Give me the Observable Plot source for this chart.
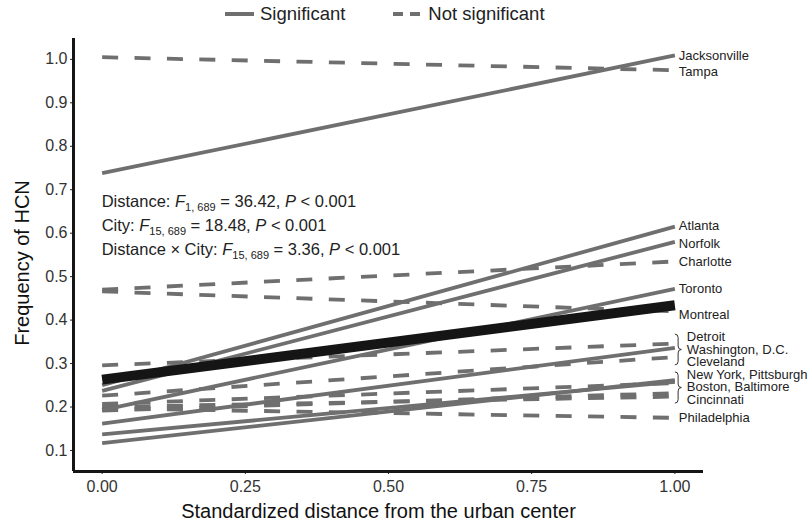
<!DOCTYPE html>
<html>
<head>
<meta charset="utf-8">
<script src="https://cdn.jsdelivr.net/npm/d3@7"></script>
<script src="https://cdn.jsdelivr.net/npm/@observablehq/plot@0.6"></script>
<style>
  html, body { margin: 0; padding: 0; background: #fff; }
  #legend { height: 28px; display: flex; align-items: center; padding-left: 225px;
            font-family: 'Liberation Sans', Arial, sans-serif; font-size: 18.5px; color: #222; }
  #legend .item { display: flex; align-items: center; }
  #legend svg { display: block; }
</style>
</head>
<body>
<div id="legend"></div>
<div id="chart"></div>
<script>
// ---- data ----
const cities = ["Jacksonville", "Tampa", "Atlanta", "Norfolk", "Charlotte", "Toronto", "Montreal",
  "Detroit", "Washington, D.C.", "Cleveland", "New York", "Pittsburgh", "Boston", "Baltimore",
  "Cincinnati", "Philadelphia"];
const freqAtCenter = [0.738, 1.005, 0.250, 0.237, 0.470, 0.193, 0.466, 0.296, 0.162, 0.226, 0.137, 0.117, 0.207, 0.192, 0.200, 0.197];
const freqAtEdge   = [1.009, 0.975, 0.615, 0.580, 0.535, 0.472, 0.420, 0.346, 0.336, 0.315, 0.258, 0.262, 0.255, 0.232, 0.224, 0.175];
const significant  = [true, false, true, true, false, true, false, false, true, false, true, true, false, false, false, false];
const overallStart = 0.263;
const overallEnd = 0.434;
const distances = [0, 1];

const labelTexts = ["Jacksonville", "Tampa", "Atlanta", "Norfolk", "Charlotte", "Toronto", "Montreal",
  "Detroit", "Washington, D.C.", "Cleveland", "New York, Pittsburgh", "Boston, Baltimore", "Cincinnati", "Philadelphia"];
const labelAt = [1.009, 0.971, 0.618, 0.576, 0.535, 0.471, 0.411, 0.362, 0.332, 0.305, 0.275, 0.247, 0.217, 0.174];
const labelGroup = [0, 0, 0, 0, 0, 0, 0, 1, 1, 1, 2, 2, 2, 0];

const xTicks = [0, 0.25, 0.5, 0.75, 1];
const yTicks = [0.1, 0.2, 0.3, 0.4, 0.5, 0.6, 0.7, 0.8, 0.9, 1.0];

const statTerms = ["Distance", "City", "Distance × City"];
const statDf = ["1, 689", "15, 689", "15, 689"];
const statF = ["36.42", "18.48", "3.36"];
const statP = ["0.001", "0.001", "0.001"];
const statAt = [0.672, 0.617, 0.563];

const legendLabels = ["Significant", "Not significant"];

const xTitle = "Standardized distance from the urban center";
const yTitle = "Frequency of HCN";

// ---- styling ----
const FONT = "'Liberation Sans', Arial, Helvetica, sans-serif";
const GREY = "#6f6f6f";
const DASH = "16,16.4";

// ---- legend ----
const legend = d3.select("#legend");
legendLabels.forEach((lab, i) => {
  const item = legend.append("div").attr("class", "item")
    .style("margin-right", i === 0 ? "48px" : "0");
  const s = item.append("svg").attr("width", i === 0 ? 29 : 27).attr("height", 8)
    .style("margin-right", i === 0 ? "6px" : "8px");
  s.append("line").attr("x1", 0).attr("x2", i === 0 ? 29 : 27).attr("y1", 4).attr("y2", 4)
    .attr("stroke", GREY).attr("stroke-width", 4)
    .attr("stroke-dasharray", i === 0 ? null : "10,7");
  item.append("span").text(lab);
});

// ---- rows ----
const rows = cities.flatMap((c, i) => distances.map(d => ({
  city: c, d, f: d === 0 ? freqAtCenter[i] : freqAtEdge[i], sig: significant[i]
})));
const overallRows = distances.map(d => ({d, f: d === 0 ? overallStart : overallEnd}));
const labels = labelTexts.map((t, i) => ({text: t, y: labelAt[i], g: labelGroup[i]}));

// annotation (stats) mark
function statsMark(index, scales) {
  const g = d3.create("svg:g")
    .attr("font-family", FONT).attr("font-size", 16.5).attr("fill", "#222")
    .attr("text-anchor", "start");
  statTerms.forEach((term, i) => {
    const t = g.append("text")
      .attr("x", scales.x(0)).attr("y", scales.y(statAt[i])).attr("dy", "0.35em");
    t.append("tspan").text(term + ": ");
    t.append("tspan").attr("font-style", "italic").text("F");
    t.append("tspan").attr("font-size", 11).attr("dy", 4).text(statDf[i]);
    t.append("tspan").attr("dy", -4).text(" = " + statF[i] + ", ");
    t.append("tspan").attr("font-style", "italic").text("P");
    t.append("tspan").text(" < " + statP[i]);
  });
  return g.node();
}

// braces for grouped labels
function bracesMark(index, scales) {
  const g = d3.create("svg:g").attr("fill", "none").attr("stroke", "#333").attr("stroke-width", 1);
  [1, 2].forEach(grp => {
    const ys = labels.filter(l => l.g === grp).map(l => scales.y(l.y));
    const yTop = d3.min(ys) - 2, yBot = d3.max(ys) + 4, ym = (yTop + yBot) / 2;
    const x0 = scales.x(1) + 0.5, w = 6.5, xm = x0 + w / 2, x1 = x0 + w, r = 3.5;
    g.append("path").attr("d",
      `M${x0},${yTop} Q${xm},${yTop} ${xm},${yTop + r} L${xm},${ym - r} Q${xm},${ym} ${x1},${ym}` +
      ` Q${xm},${ym} ${xm},${ym + r} L${xm},${yBot - r} Q${xm},${yBot} ${x0},${yBot}`);
  });
  return g.node();
}

const xDomain = [-0.05, 1.05];
const yDomain = [0.0516, 1.048];

const chart = Plot.plot({
  width: 811,
  height: 497,
  marginTop: 10,
  marginBottom: 54,
  marginLeft: 73,
  marginRight: 108,
  x: {domain: xDomain},
  y: {domain: yDomain},
  style: {fontFamily: FONT, fontSize: "16px", color: "#333", background: "white", overflow: "visible"},
  marks: [
    Plot.axisX({ticks: xTicks, tickFormat: d => d.toFixed(2), tickSize: 3, tickPadding: 6, label: null, stroke: "#222"}),
    Plot.axisY({ticks: yTicks, tickFormat: d => d.toFixed(1), tickSize: 3, tickPadding: 3, label: null, stroke: "#222"}),
    Plot.line(rows.filter(r => !r.sig), {x: "d", y: "f", z: "city", stroke: GREY, strokeWidth: 3.8, strokeDasharray: DASH, strokeLinecap: "butt"}),
    Plot.line(rows.filter(r => r.sig), {x: "d", y: "f", z: "city", stroke: GREY, strokeWidth: 3.8, strokeLinecap: "butt"}),
    Plot.line(overallRows, {x: "d", y: "f", stroke: "#151515", strokeWidth: 10, strokeLinecap: "butt"}),
    Plot.ruleX([xDomain[0]], {stroke: "#151515", strokeWidth: 3}),
    Plot.ruleY([yDomain[0]], {stroke: "#151515", strokeWidth: 3}),
    Plot.text(labels.filter(l => l.g === 0), {x: () => 1, y: "y", text: "text", dx: 4, textAnchor: "start", fontSize: 13, fill: "#222"}),
    Plot.text(labels.filter(l => l.g !== 0), {x: () => 1, y: "y", text: "text", dx: 12, textAnchor: "start", fontSize: 13, fill: "#222"}),
    bracesMark,
    statsMark,
    Plot.text([xTitle], {frameAnchor: "bottom", lineAnchor: "middle", textAnchor: "middle", dx: -10, dy: 40, fontSize: 20, fill: "#111"}),
    Plot.text([yTitle], {frameAnchor: "left", lineAnchor: "middle", textAnchor: "middle", rotate: -90, dx: -51, dy: 8, fontSize: 20, fill: "#111"})
  ]
});
document.getElementById("chart").appendChild(chart);
</script>
</body>
</html>
